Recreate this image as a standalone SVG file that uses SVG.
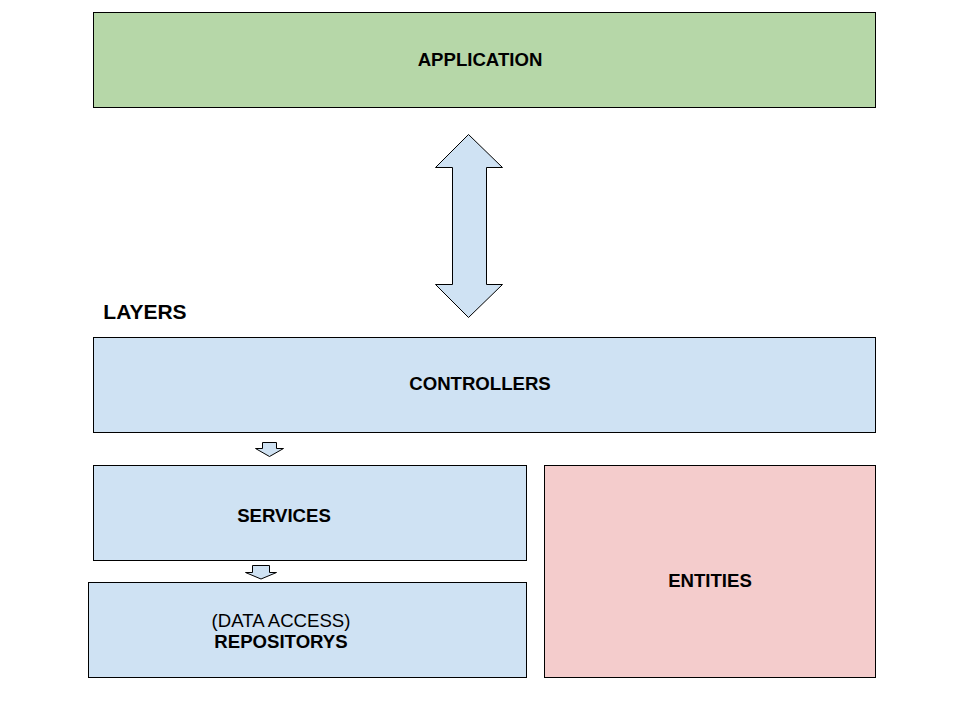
<svg xmlns="http://www.w3.org/2000/svg" width="960" height="720" viewBox="0 0 960 720">
<style>
.box{stroke:#000;stroke-width:1}
.blue{fill:#cfe2f3}
.green{fill:#b6d7a8}
.pink{fill:#f4cccc}
.arr{fill:#cfe2f3;stroke:#000;stroke-width:1;stroke-linejoin:miter}
text{font-family:"Liberation Sans",Arial,sans-serif;font-size:18.6px;fill:#000;text-anchor:middle;dominant-baseline:central}
.b{font-weight:bold}
</style>
<rect width="960" height="720" fill="#fff"/>
<g id="application"><rect class="box green" x="93.5" y="12.5" width="782" height="95"/><text class="b" x="480" y="59">APPLICATION</text></g>
<g id="layers-label"><text class="b" x="145" y="311" style="font-size:21px">LAYERS</text></g>
<g id="controllers"><rect class="box blue" x="93.5" y="337.5" width="782" height="95"/><text class="b" x="480" y="383">CONTROLLERS</text></g>
<g id="services"><rect class="box blue" x="93.5" y="465.5" width="433" height="95"/><text class="b" x="284" y="515">SERVICES</text></g>
<g id="repositorys"><rect class="box blue" x="88.5" y="582.5" width="438" height="95"/><text x="281" y="620">(DATA ACCESS)</text><text class="b" x="281" y="641.5">REPOSITORYS</text></g>
<g id="entities"><rect class="box pink" x="544.5" y="465.5" width="331" height="212"/><text class="b" x="710" y="580">ENTITIES</text></g>
<g id="connectors">
<path class="arr" d="M468.5,134.5 L502.5,167.5 L486.5,167.5 L486.5,284.5 L502.5,284.5 L468.5,317.5 L435.5,284.5 L452.5,284.5 L452.5,167.5 L435.5,167.5 Z"/>
<path class="arr" d="M262.5,442.5 L276.5,442.5 L276.5,448.5 L283.5,448.5 L269.5,456.5 L255.5,448.5 L262.5,448.5 Z"/>
<path class="arr" d="M252.5,565.5 L269.5,565.5 L269.5,572.5 L276.5,572.5 L261,579 L245.5,572.5 L252.5,572.5 Z"/>
</g>
</svg>
